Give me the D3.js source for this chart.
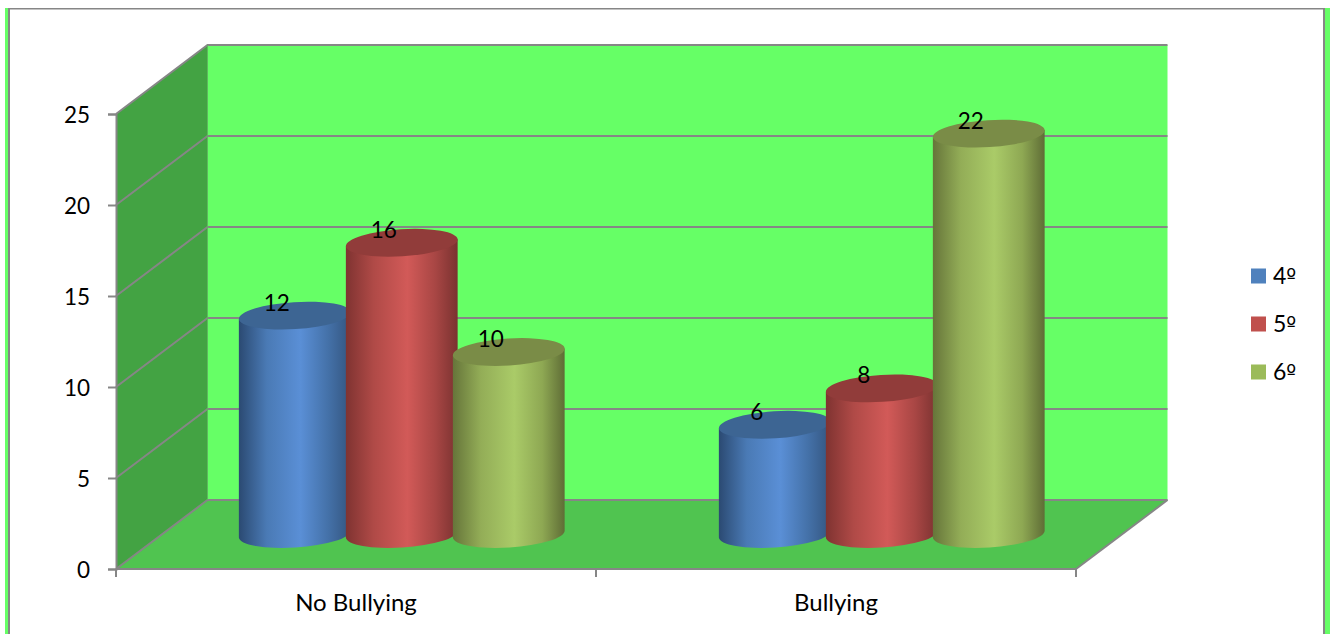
<!DOCTYPE html>
<html><head><meta charset="utf-8">
<script src="https://cdn.jsdelivr.net/npm/d3@7"></script>
<style>html,body{margin:0;padding:0;background:#fff;overflow:hidden}svg{display:block}text{font-family:Lato,sans-serif;fill:#000}</style>
</head><body><svg id="c" width="1330" height="634"></svg>
<script>
const categories = ["No Bullying","Bullying"];
const seriesNames = ["4º","5º","6º"];
const values4 = [12,6];
const values5 = [16,8];
const values6 = [10,22];
const yTicks = [0,5,10,15,20,25];
const seriesValues = [values4,values5,values6];
const legendColors = ["#4f81bd","#c0504d","#9bbb59"];
const sideStops = [["#2b4a72","#4a7ab5","#5a8fd6","#4471a8","#34557f"],
                   ["#7f3331","#b04a47","#d25a58","#a84644","#7a3230"],
                   ["#66753a","#93ad57","#aacb68","#8ea853","#5f6d36"]];
const lidColors = ["#3d6593","#913c3a","#7a8c47"];
const dx=91.5, dy=-69, rx=56, ry=13.5, tilt=-3.6, baseLift=35;
const y=d3.scaleLinear().domain([0,25]).range([569,114]);
const x=d3.scaleBand().domain(categories).range([116,1076]);
const sub=d3.scalePoint().domain(seriesNames).range([-107,107]);
const svg=d3.select("#c");
const grey="#868686";
// page frame
svg.append("rect").attr("x",5).attr("y",8).attr("width",3).attr("height",626).attr("fill","#66ff66");
svg.append("rect").attr("x",8).attr("y",8).attr("width",2).attr("height",626).attr("fill",grey);
svg.append("rect").attr("x",8).attr("y",8).attr("width",1317).attr("height",1.5).attr("fill",grey);
svg.append("rect").attr("x",1323).attr("y",8).attr("width",2).attr("height",626).attr("fill",grey);
svg.append("rect").attr("x",1325).attr("y",8).attr("width",5).attr("height",626).attr("fill","#66ff66");
const [x0,x1]=x.range(), y0=y(0), yT=y(25);
const poly=(pts,f)=>svg.append("polygon").attr("points",pts.map(p=>p.join(",")).join(" ")).attr("fill",f);
poly([[x0+dx,yT+dy],[x1+dx,yT+dy],[x1+dx,y0+dy],[x0+dx,y0+dy]],"#66ff66");
poly([[x0,yT],[x0+dx,yT+dy],[x0+dx,y0+dy],[x0,y0]],"#43a343");
poly([[x0,y0],[x0+dx,y0+dy],[x1+dx,y0+dy],[x1,y0]],"#50c450");
// grid
yTicks.forEach(t=>{
  const py=y(t);
  svg.append("polyline").attr("points",`${x0},${py} ${x0+dx},${py+dy} ${x1+dx},${py+dy}`)
    .attr("fill","none").attr("stroke",grey).attr("stroke-width",2);
});
svg.append("line").attr("x1",x0+dx).attr("x2",x0+dx).attr("y1",yT+dy).attr("y2",y0+dy).attr("stroke","#5fb85f").attr("stroke-width",1);
svg.append("line").attr("x1",x1).attr("y1",y0).attr("x2",x1+dx).attr("y2",y0+dy).attr("stroke",grey).attr("stroke-width",2);
// axes
const ay=svg.append("g").attr("transform",`translate(${x0},0)`).call(d3.axisLeft(y).tickValues(yTicks).tickSize(8).tickPadding(18));
const ax=svg.append("g").attr("transform",`translate(0,${y0})`).call(d3.axisBottom(x).tickSize(0).tickPadding(26));
[ay,ax].forEach(a=>{a.selectAll("path,line").attr("stroke",grey).attr("stroke-width",2);a.selectAll("text").style("font-family","Lato,sans-serif");});
ay.selectAll("text").attr("font-size",22.5).attr("dy",0).attr("y",8);
ax.selectAll("text").attr("font-size",24).attr("dy",0).attr("y",42);
ax.select("path").attr("d",`M${x0},0H${x1}`);
[x0,x0+x.bandwidth(),x1].forEach(t=>ax.append("line").attr("x1",t).attr("x2",t).attr("y1",0).attr("y2",8).attr("stroke",grey).attr("stroke-width",2));
// gradients
const defs=svg.append("defs");
sideStops.forEach((s,i)=>{
  const g=defs.append("linearGradient").attr("id","g"+i).attr("x1",0).attr("x2",1).attr("y1",0).attr("y2",0);
  [0,.25,.55,.8,1].forEach((o,j)=>g.append("stop").attr("offset",o).attr("stop-color",s[j]));
});
// cylinders
const rad=tilt*Math.PI/180, ex=rx*Math.cos(rad), ey=rx*Math.sin(rad);
categories.forEach((c,ci)=>{
  const gc=x(c)+x.bandwidth()/2+dx/2;
  seriesNames.forEach((s,si)=>{
    const v=seriesValues[si][ci], cx=gc+sub(s), bt=y(0)-baseLift, tp=y(v)-baseLift;
    svg.append("path").attr("fill",`url(#g${si})`)
      .attr("d",`M${cx-ex},${tp-ey}L${cx-ex},${bt-ey}A${rx},${ry} ${tilt} 0 0 ${cx+ex},${bt+ey}L${cx+ex},${tp+ey}Z`);
    svg.append("ellipse").attr("cx",cx).attr("cy",tp).attr("rx",rx).attr("ry",ry)
      .attr("transform",`rotate(${tilt} ${cx} ${tp})`).attr("fill",lidColors[si]);
  });
});
// labels on top
categories.forEach((c,ci)=>{
  const gc=x(c)+x.bandwidth()/2+dx/2;
  seriesNames.forEach((s,si)=>{
    const v=seriesValues[si][ci];
    svg.append("text").attr("x",gc+sub(s)-18).attr("y",y(v)-baseLift-13+8).attr("text-anchor","middle").attr("font-size",22.5).text(v);
  });
});
// legend
const ly=d3.scalePoint().domain(seriesNames).range([276,372]);
seriesNames.forEach((s,i)=>{
  svg.append("rect").attr("x",1251).attr("y",ly(s)-7.5).attr("width",15).attr("height",15).attr("fill",legendColors[i]);
  const t=svg.append("text").attr("x",1273).attr("y",ly(s)+8).attr("font-size",23);
  t.append("tspan").text(s[0]);
  t.append("tspan").attr("font-size",21).style("font-family","'DejaVu Sans',sans-serif").text(s[1]);
});
</script></body></html>
